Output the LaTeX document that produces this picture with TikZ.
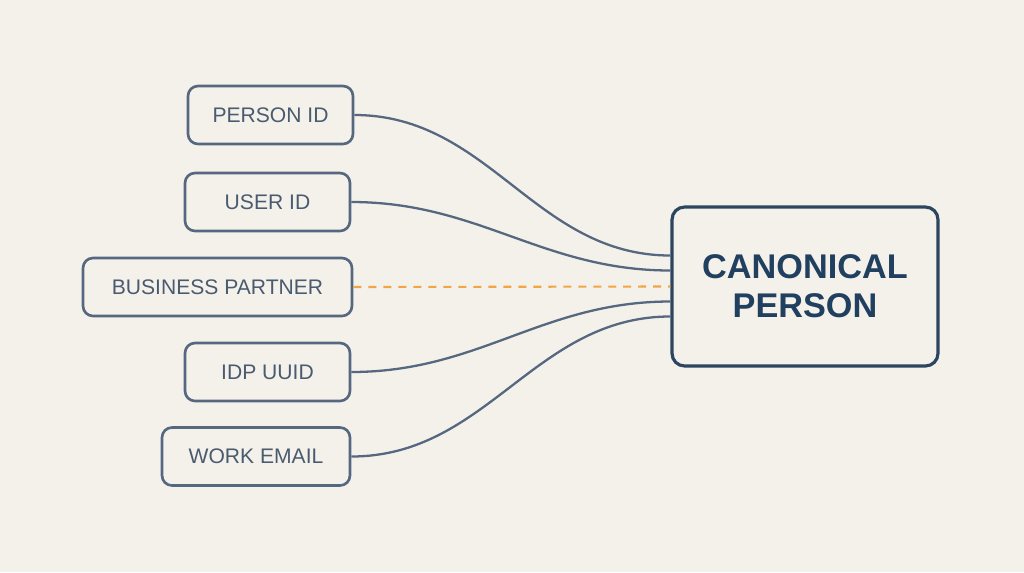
\documentclass[tikz,border=0pt]{standalone}
\usepackage{fontspec}
\setmainfont{Liberation Sans}
\usepackage{tikz}
\usetikzlibrary{positioning}
\definecolor{paper}{HTML}{F4F1EA}
\definecolor{slate}{HTML}{56687F}
\definecolor{ink}{HTML}{4A5B70}
\definecolor{navy}{HTML}{2C4561}
\definecolor{deep}{HTML}{213F5E}
\definecolor{amber}{HTML}{F2A545}

\begin{document}
\begin{tikzpicture}[x=0.02cm,y=-0.02cm,
  idbox/.style={draw=slate,line width=1.5pt,rounded corners=0.2cm,
    minimum height=1.16cm,text=ink,font=\fontsize{12}{14}\selectfont},
  link/.style={draw=slate,line width=1.3pt},
  weak/.style={draw=amber,line width=1.2pt,dash pattern=on 0.16cm off 0.14cm}]
\fill[paper] (0,0) rectangle (1024,572);
\node[idbox,minimum width=3.3cm] (pid) at (270.5,115) {PERSON ID};
\node[idbox,minimum width=3.3cm] (uid) at (267.5,202) {USER ID};
\node[idbox,minimum width=5.38cm] (bp) at (217.5,287) {BUSINESS PARTNER};
\node[idbox,minimum width=3.3cm] (idp) at (267.5,372) {IDP UUID};
\node[idbox,minimum width=3.76cm] (mail) at (256,456.5) {WORK EMAIL};
\node[draw=navy,line width=1.8pt,rounded corners=0.25cm,minimum width=5.32cm,
  minimum height=3.18cm,text=deep,align=center,
  font=\fontsize{19.5}{22}\selectfont\bfseries] (canon) at (805,286.5)
  {CANONICAL\\PERSON};
% links into the canonical record
\draw[link] (pid.east) to[out=0,in=180] ([yshift=0.62cm]canon.west);
\draw[link] (uid.east) to[out=0,in=180] ([yshift=0.32cm]canon.west);
\draw[weak] (bp.east) -- (canon.west);
\draw[link] (idp.east) to[out=0,in=180] ([yshift=-0.30cm]canon.west);
\draw[link] (mail.east) to[out=0,in=180] ([yshift=-0.60cm]canon.west);
\end{tikzpicture}
\end{document}
